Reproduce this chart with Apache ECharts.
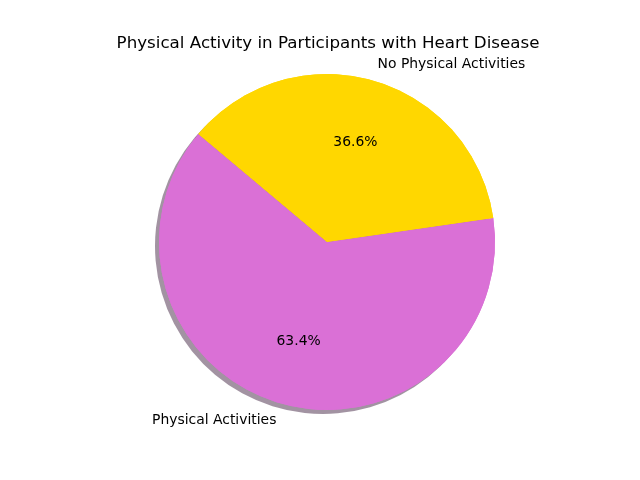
<!DOCTYPE html>
<html>
<head>
<meta charset="UTF-8">
<title>Physical Activity</title>
<script src="https://cdn.jsdelivr.net/npm/echarts@6/dist/echarts.min.js"></script>
<style>
  html, body { margin: 0; padding: 0; background: #fff; }
  #main { width: 640px; height: 480px; }
</style>
</head>
<body>
<div id="main"></div>
<script>
// slice data
var categories = ['Physical Activities', 'No Physical Activities'];
var shares = [63.4, 36.6];
var colors = ['#DA70D6', '#FFD700'];

var chart = echarts.init(document.getElementById('main'));

var pieData = categories.map(function (name, i) {
  return { name: name, value: shares[i], itemStyle: { color: colors[i] } };
});

var font = 'DejaVu Sans';
var R = 168;

var option = {
  backgroundColor: '#fff',
  animation: false,
  title: {
    text: 'Physical Activity in Participants with Heart Disease',
    left: 323,
    top: 30,
    textAlign: 'center',
    textStyle: { fontFamily: font, fontSize: 16.7, fontWeight: 'normal', color: '#000' }
  },
  series: [
    {
      // bottom copy: carries the shadow and the outside labels
      type: 'pie',
      center: [327, 242],
      radius: R,
      startAngle: 140,
      clockwise: false,
      avoidLabelOverlap: false,
      silent: true,
      itemStyle: {
        shadowBlur: 0,
        shadowOffsetX: -4,
        shadowOffsetY: 4,
        shadowColor: 'rgba(70,40,70,0.5)'
      },
      label: {
        show: true,
        position: 'outside',
        formatter: '{b}',
        fontFamily: font,
        fontSize: 13.9,
        color: '#000',
        distanceToLabelLine: 0
      },
      labelLine: { show: false, length: 17, length2: 0 },
      data: pieData
    },
    {
      // top copy without shadow
      type: 'pie',
      center: [327, 242],
      radius: R,
      startAngle: 140,
      clockwise: false,
      silent: true,
      label: { show: false },
      labelLine: { show: false },
      data: pieData
    },
    {
      // transparent ring so the percentages sit at 0.6 of the radius
      type: 'pie',
      center: [327, 242],
      radius: [R * 0.2, R],
      startAngle: 140,
      clockwise: false,
      silent: true,
      itemStyle: { color: 'rgba(0,0,0,0)' },
      label: {
        show: true,
        position: 'inside',
        formatter: function (p) { return p.value.toFixed(1) + '%'; },
        fontFamily: font,
        fontSize: 13.9,
        color: '#000'
      },
      labelLine: { show: false },
      data: categories.map(function (name, i) { return { name: name, value: shares[i] }; })
    }
  ]
};

chart.setOption(option);
</script>
</body>
</html>
